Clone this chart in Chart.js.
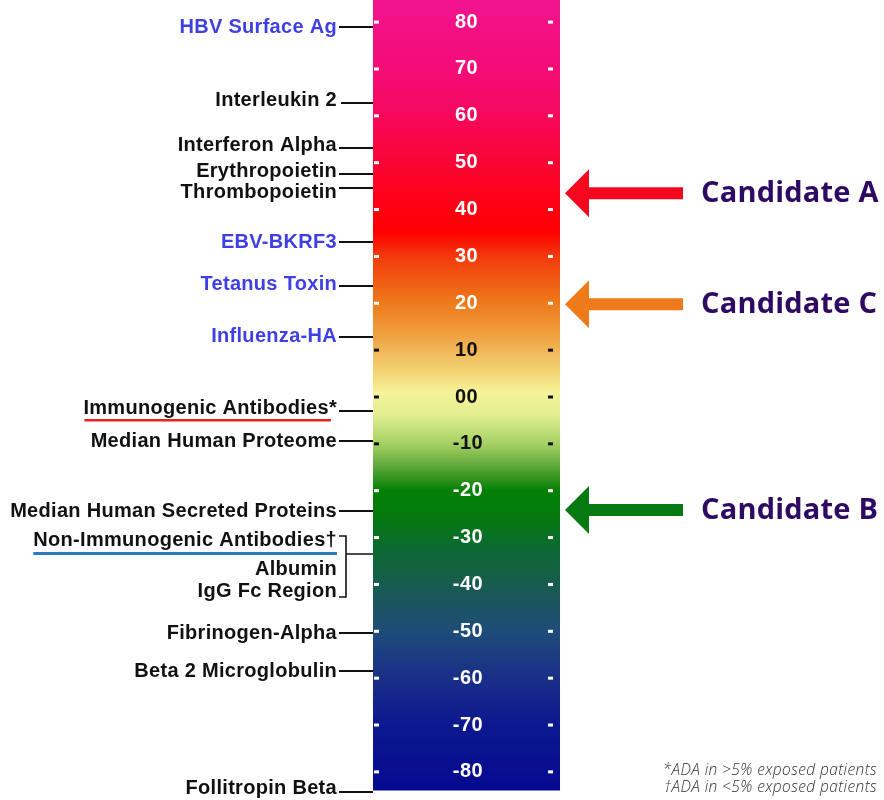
<!DOCTYPE html>
<html><head><meta charset="utf-8">
<script src="https://cdn.jsdelivr.net/npm/chart.js@4.4.0/dist/chart.umd.min.js"></script>
<style>html,body{margin:0;padding:0;background:#fff;}#wrap{width:884px;height:800px;}</style>
</head><body><div id="wrap"><canvas id="c" width="884" height="800"></canvas></div>
<script>
// ---------- data ----------
const scaleTicks = [80,70,60,50,40,30,20,10,0,-10,-20,-30,-40,-50,-60,-70,-80];
const tickLabels = ['80','70','60','50','40','30','20','10','00','-10','-20','-30','-40','-50','-60','-70','-80'];
const proteinNames = ['HBV Surface Ag','Interleukin 2','Interferon Alpha','Erythropoietin','Thrombopoietin','EBV-BKRF3','Tetanus Toxin','Influenza-HA','Immunogenic Antibodies*','Median Human Proteome','Median Human Secreted Proteins','Fibrinogen-Alpha','Beta 2 Microglobulin','Follitropin Beta'];
const proteinScores = [79,62.7,53.1,47.6,44.6,33.1,23.7,12.7,-2.9,-9.3,-24.3,-50.4,-58.4,-84.2];
const groupNames = ['Non-Immunogenic Antibodies\u2020','Albumin','IgG Fc Region'];
const groupScore = -33.5;
const candidateNames = ['Candidate A','Candidate C','Candidate B'];
const candidateScores = [43.5,19.8,-24.1];
const scaleRange = [-83.9, 84.7];
const footnotes = ['*ADA in >5% exposed patients','\u2020ADA in <5% exposed patients'];

// ---------- style ----------
const blueLabels = new Set(['HBV Surface Ag','EBV-BKRF3','Tetanus Toxin','Influenza-HA']);
const darkTicks = new Set(['10','00','-10']);
const labelDy = {'Interleukin 2':-3,'Interferon Alpha':-3,'Erythropoietin':-3,'Thrombopoietin':4,'Tetanus Toxin':-2,'Influenza-HA':-1,'Immunogenic Antibodies*':-3,'Follitropin Beta':-4};
const labelLineStart = {'Interleukin 2':341};
const groupDy = [-14,15,37];
const candidateColors = ['#f5071f','#ee7a1a','#047a10'];
const gradientStops = [
  [84.7,'#f2138e'],[70,'#f40c78'],[60,'#f6085c'],[50,'#fa0434'],[40,'#ff0010'],[35,'#ff0000'],
  [30,'#f43a0c'],[20,'#ee7a1a'],[12,'#f0a848'],[6,'#f3d070'],[1,'#f6f39a'],[-4,'#e0ee90'],
  [-10,'#a6d062'],[-15,'#5aa638'],[-20,'#038004'],[-26,'#047810'],[-32,'#0b6a30'],[-40,'#175c50'],
  [-50,'#1e4c78'],[-60,'#1a2e88'],[-70,'#0c1890'],[-83.9,'#050a90']
];
const labelFont = 'bold 20px "Liberation Sans", Arial, sans-serif';

function barGradient(c){
  const chart = c.chart;
  if(!chart.chartArea) return '#f00';
  const y = chart.scales.y;
  const top = y.getPixelForValue(scaleRange[1]), bot = y.getPixelForValue(scaleRange[0]);
  const g = chart.ctx.createLinearGradient(0, top, 0, bot);
  gradientStops.forEach(([v,col]) => {
    const f = (y.getPixelForValue(v) - top) / (bot - top);
    g.addColorStop(Math.min(1, Math.max(0, f)), col);
  });
  return g;
}

const overlay = {
  id:'overlay',
  afterDatasetsDraw(chart){
    const ctx = chart.ctx, y = chart.scales.y, area = chart.chartArea;
    const cx = (area.left + area.right) / 2;
    const ls = v => { if ('letterSpacing' in ctx) ctx.letterSpacing = v; };
    ctx.save();
    // ticks inside the bar
    ctx.font = labelFont;
    ctx.textAlign = 'center';
    ctx.textBaseline = 'middle';
    ls('0.5px');
    scaleTicks.forEach((v,i) => {
      const py = y.getPixelForValue(v);
      const col = darkTicks.has(tickLabels[i]) ? '#111' : '#fff';
      ctx.fillStyle = col;
      ctx.fillText(tickLabels[i], cx + (tickLabels[i].startsWith('-') ? 1.5 : 0), py);
      ctx.fillRect(area.left + 1, py - 1.5, 5, 3);
      ctx.fillRect(area.right - 12, py - 1.5, 5, 3);
    });
    // protein labels
    ctx.textAlign = 'right';
    ctx.lineWidth = 2;
    ctx.strokeStyle = '#111';
    ls('0.3px');
    proteinNames.forEach((name,i) => {
      const py = Math.round(y.getPixelForValue(proteinScores[i]));
      ctx.beginPath();
      ctx.moveTo(labelLineStart[name] || 339, py);
      ctx.lineTo(area.left, py);
      ctx.stroke();
      ctx.fillStyle = blueLabels.has(name) ? '#3f3fe6' : '#111';
      const ty = py + (labelDy[name] || 0);
      ctx.fillText(name, 337, ty);
      if (name === 'Immunogenic Antibodies*') {
        const w = ctx.measureText(name).width, ws = ctx.measureText('*').width;
        ctx.fillStyle = '#e82020';
        ctx.fillRect(337 - w + 1, ty + 11, w - ws + 1, 2.5);
      }
    });
    // group with bracket
    const gy = Math.round(y.getPixelForValue(groupScore));
    groupNames.forEach((name,i) => {
      const ty = gy + groupDy[i];
      ctx.fillStyle = '#111';
      ctx.fillText(name, 337, ty);
      if (i === 0) {
        const w = ctx.measureText(name).width;
        ctx.fillStyle = '#2a78c6';
        ctx.fillRect(337 - w, ty + 12, w, 3);
      }
    });
    ctx.lineWidth = 1.6;
    ctx.beginPath();
    ctx.moveTo(339, gy - 18); ctx.lineTo(346, gy - 18); ctx.lineTo(346, gy + 43); ctx.lineTo(339, gy + 43);
    ctx.moveTo(346, gy); ctx.lineTo(area.left, gy);
    ctx.stroke();
    // candidate arrows
    ls('0.2px');
    candidateScores.forEach((v,i) => {
      const py = y.getPixelForValue(v);
      ctx.fillStyle = candidateColors[i];
      ctx.beginPath();
      ctx.moveTo(565, py);
      ctx.lineTo(589, py - 24);
      ctx.lineTo(589, py - 6);
      ctx.lineTo(683, py - 6);
      ctx.lineTo(683, py + 6);
      ctx.lineTo(589, py + 6);
      ctx.lineTo(589, py + 24);
      ctx.closePath();
      ctx.fill();
      ctx.fillStyle = '#2e0a63';
      ctx.font = 'bold 29px "Open Sans", Lato, sans-serif';
      ctx.textAlign = 'left';
      ctx.fillText(candidateNames[i], 701, py + 1);
    });
    // footnotes
    ls('0.4px');
    ctx.font = 'italic 300 15.5px "Open Sans", Lato, sans-serif';
    ctx.fillStyle = '#333';
    ctx.textAlign = 'right';
    footnotes.forEach((t,i) => ctx.fillText(t, 877, 771 + i * 17));
    ctx.restore();
  }
};

new Chart(document.getElementById('c'), {
  type:'bar',
  data:{ labels:['Immunogenicity'], datasets:[{ data:[scaleRange], backgroundColor:barGradient, borderWidth:0, borderSkipped:false, barPercentage:1, categoryPercentage:1 }] },
  options:{
    responsive:false, animation:false,
    layout:{ padding:{ left:373, right:324, top:0, bottom:0 } },
    plugins:{ legend:{ display:false }, tooltip:{ enabled:false } },
    scales:{ x:{ display:false }, y:{ display:false, min:-86, max:84.72 } }
  },
  plugins:[overlay]
});
</script></body></html>
